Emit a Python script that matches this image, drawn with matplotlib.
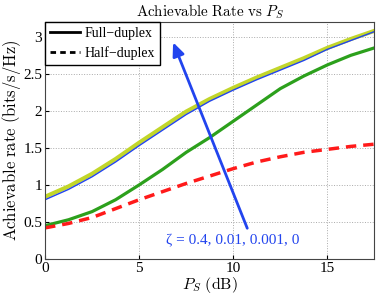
import matplotlib
matplotlib.use("Agg")
import matplotlib.pyplot as plt
from matplotlib.lines import Line2D

plt.rcParams["font.family"] = ["Liberation Serif", "DejaVu Serif"]
plt.rcParams["mathtext.fontset"] = "cm"

# P_S in dB and achievable rate (bits/s/Hz)
ps_db = [0, 1.25, 2.5, 3.75, 5, 6.25, 7.5, 8.75, 10, 11.25, 12.5, 13.75, 15, 16.25, 17.5]
rate_z0 = [0.84, 0.98, 1.15, 1.35, 1.57, 1.78, 1.99, 2.16, 2.31, 2.45, 2.58, 2.71, 2.85, 2.97, 3.08]
rate_z0001 = [0.80, 0.94, 1.11, 1.31, 1.53, 1.74, 1.95, 2.13, 2.28, 2.42, 2.55, 2.68, 2.83, 2.95, 3.07]
rate_z001 = [0.45, 0.53, 0.64, 0.80, 1.00, 1.21, 1.44, 1.64, 1.86, 2.08, 2.30, 2.47, 2.62, 2.75, 2.85]
rate_hd = [0.42, 0.48, 0.56, 0.68, 0.80, 0.91, 1.02, 1.12, 1.22, 1.31, 1.38, 1.44, 1.48, 1.52, 1.55]

fig = plt.figure(figsize=(3.82, 2.97), dpi=100)
ax = fig.add_axes([0.118, 0.128, 0.862, 0.798])

ax.plot(ps_db, rate_z0, color="#c2d62a", lw=3.0)
ax.plot(ps_db, rate_z0001, color="#2244ee", lw=1.0)
ax.plot(ps_db, rate_z001, color="#2ca01c", lw=2.3)
ax.plot(ps_db, rate_hd, color="#ff1a1a", lw=2.5, ls=(0, (3, 2)))

ax.annotate("", xy=(6.75, 2.96), xytext=(10.8, 0.38),
            arrowprops=dict(arrowstyle="-|>,head_length=0.8,head_width=0.35",
                            color="#2244ee", lw=2.0))
ax.text(9.95, 0.25, "ζ = 0.4, 0.01, 0.001, 0", color="#2244ee", fontsize=11,
        ha="center", va="center")

ax.set_xlim(0, 17.5)
ax.set_ylim(0, 3.2)
ax.set_xticks([0, 5, 10, 15])
ax.set_yticks([0, 0.5, 1, 1.5, 2, 2.5, 3])
ax.set_yticklabels(["0", "0.5", "1", "1.5", "2", "2.5", "3"])
ax.tick_params(direction="in", labelsize=11, length=3, pad=2)
ax.grid(True, ls=":", color="#aaaaaa", lw=0.7)
for s in ax.spines.values():
    s.set_color("#444444")
ax.set_xlabel(r"$P_S\ \mathrm{(dB)}$", fontsize=11.5, labelpad=0)
ax.set_ylabel(r"$\mathrm{Achievable\ rate\ (bits/s/Hz)}$", fontsize=12, labelpad=0)
ax.set_title(r"$\mathrm{Achievable\ Rate\ vs\ }P_S$", fontsize=10.8, pad=4)

handles = [Line2D([0], [0], color="black", lw=2.0, label="Full\u2212duplex"),
           Line2D([0], [0], color="black", lw=2.0, ls=(0, (2, 1.5)), label="Half\u2212duplex")]
ax.legend(handles=handles, loc="upper left", fontsize=10, fancybox=False,
          edgecolor="black", framealpha=1, borderaxespad=0, handlelength=2.2,
          handletextpad=0.3, borderpad=0.35, labelspacing=0.45)

fig.savefig("out.png", dpi=100)
